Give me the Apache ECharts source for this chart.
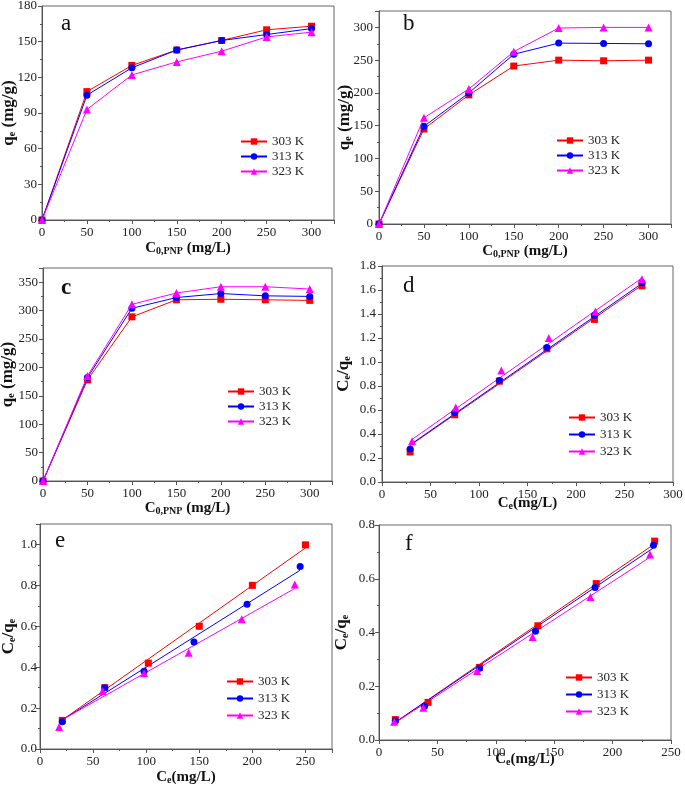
<!DOCTYPE html>
<html>
<head>
<meta charset="utf-8">
<script src="https://cdn.jsdelivr.net/npm/echarts@6/dist/echarts.min.js"></script>
<style>html,body{margin:0;padding:0;background:#fff;}#c{width:685px;height:786px;}</style>
</head>
<body>
<div id="c"></div>
<script>
// ---------- data ----------
const conc = [0, 50, 100, 150, 200, 250, 300];
const seriesNames = ['303 K', '313 K', '323 K'];

// panel a (q_e vs C0,PNP)
const a303 = [0, 108, 130, 143, 151, 160, 163];
const a313 = [0, 105, 128, 143, 151, 156, 161];
const a323 = [0, 93, 122, 133, 142, 154, 158];
// panel b
const b303 = [0, 145, 197, 241, 250, 249, 250];
const b313 = [0, 149, 200, 259, 276, 275.5, 275];
const b323 = [0, 162, 206, 263, 299, 300, 300];
// panel c
const c303 = [0, 178, 289, 319, 320, 319, 318];
const c313 = [0, 182, 304, 323, 330, 326, 325];
const c323 = [0, 185, 311, 331, 342, 342, 338];

// panel d (Ce/qe vs Ce)
const dCe303 = [29, 75, 121, 170, 219, 268];
const dY303 = [0.25, 0.56, 0.84, 1.11, 1.355, 1.635];
const dCe313 = [29, 75, 121, 170, 219, 268];
const dY313 = [0.275, 0.58, 0.845, 1.12, 1.39, 1.66];
const dCe323 = [31, 76, 123, 172, 220, 268];
const dY323 = [0.34, 0.62, 0.93, 1.20, 1.42, 1.69];
const dFit303 = [[29, 0.305], [268, 1.64]];
const dFit313 = [[29, 0.31], [268, 1.655]];
const dFit323 = [[31, 0.355], [268, 1.70]];

// panel e
const eCe303 = [21, 61, 102, 150, 200, 250];
const eY303 = [0.14, 0.30, 0.42, 0.60, 0.80, 0.998];
const eCe313 = [21, 61, 98, 145, 195, 245];
const eY313 = [0.133, 0.30, 0.38, 0.523, 0.708, 0.892];
const eCe323 = [18, 59, 98, 140, 190, 240];
const eY323 = [0.108, 0.283, 0.37, 0.47, 0.634, 0.804];
const eFit303 = [[21, 0.142], [250, 0.983]];
const eFit313 = [[21, 0.142], [245, 0.874]];
const eFit323 = [[20, 0.14], [240, 0.785]];

// panel f
const fCe303 = [14, 42, 86, 136, 186, 236];
const fY303 = [0.076, 0.14, 0.27, 0.425, 0.582, 0.74];
const fCe313 = [14, 39, 86, 134, 185, 235];
const fY313 = [0.072, 0.126, 0.267, 0.405, 0.567, 0.725];
const fCe323 = [13, 38, 84, 131.5, 181, 232];
const fY323 = [0.068, 0.12, 0.257, 0.383, 0.532, 0.69];
const fFit303 = [[14, 0.066], [236, 0.73]];
const fFit313 = [[14, 0.066], [235, 0.715]];
const fFit323 = [[13, 0.062], [232, 0.68]];

// ---------- styling ----------
const FONT = '"Liberation Serif", "Times New Roman", serif';
const colors = ['#ff0000', '#0000ff', '#ff00ff'];
const symbols = ['rect', 'circle', 'triangle'];
const symSizes = [7, 7, 8];

const grids = [
  {left: 42, top: 6, width: 292, height: 214},
  {left: 379, top: 11, width: 292, height: 213},
  {left: 43, top: 268, width: 289, height: 213},
  {left: 382, top: 266, width: 291, height: 216},
  {left: 40, top: 524, width: 292, height: 225},
  {left: 379, top: 525, width: 292, height: 215}
];
grids.forEach(g => {
  g.show = true; g.borderColor = '#666'; g.borderWidth = 1; g.backgroundColor = 'transparent';
  g.containLabel = false; g.outerBoundsMode = 'none';
});

const xNameConc = '{b|C}{s|0,PNP}{b| (mg/L)}';
const xNameCe = '{b|C}{s|e}{b|(mg/L)}';
const yNameQ = '{b|q}{s|e}{b| (mg/g)}';
const yNameCq = '{b|C}{s|e}{b|/q}{s|e}';

function nameStyle(size) {
  return {
    fontFamily: FONT, fontWeight: 'bold', fontSize: size, color: '#111',
    rich: {
      b: {fontFamily: FONT, fontWeight: 'bold', fontSize: size, color: '#111', lineHeight: 20},
      s: {fontFamily: FONT, fontWeight: 'bold', fontSize: 10, color: '#111', lineHeight: 20, padding: [7, 0, 0, 0]}
    }
  };
}

function axis(gi, min, max, interval, name, nameGap, isY, labelMargin) {
  return {
    gridIndex: gi, type: 'value', min: min, max: max, interval: interval,
    name: name, nameLocation: 'middle', nameGap: nameGap, nameMoveOverlap: false,
    nameTextStyle: nameStyle(isY ? 17 : 15),
    axisLine: {show: true, onZero: false, lineStyle: {color: '#555', width: 1}},
    axisTick: {show: true, inside: false, length: 4, lineStyle: {color: '#555'}},
    minorTick: {show: true, splitNumber: 2, length: 2, lineStyle: {color: '#555'}},
    splitLine: {show: false},
    axisLabel: {
      fontFamily: FONT, fontSize: 13, color: '#222', margin: labelMargin,
      showMaxLabel: (Math.abs(max / interval - Math.round(max / interval)) < 1e-6),
      formatter: function (v) {
        if (interval < 1) return v.toFixed(1);
        return String(v);
      }
    }
  };
}

const xAxes = [
  axis(0, 0, 325, 50, xNameConc, 18, false, 6),
  axis(1, 0, 325, 50, xNameConc, 17, false, 6),
  axis(2, 0, 325, 50, xNameConc, 17, false, 6),
  axis(3, 0, 300, 50, xNameCe, 11, false, 6),
  axis(4, 0, 275, 50, xNameCe, 18, false, 6),
  axis(5, 0, 250, 50, xNameCe, 9, false, 6)
];
const yAxes = [
  axis(0, 0, 180, 30, yNameQ, 23, true, 5),
  axis(1, 0, 325, 50, yNameQ, 24, true, 6),
  axis(2, 0, 375, 50, yNameQ, 25, true, 5),
  axis(3, 0, 1.8, 0.2, yNameCq, 28, true, 6),
  axis(4, 0, 1.1, 0.2, yNameCq, 21, true, 3),
  axis(5, 0, 0.8, 0.2, yNameCq, 27, true, 4)
];

const series = [];
function zip(xs, ys) { return xs.map((x, i) => [x, ys[i]]); }

const linePanels = [
  [a303, a313, a323],
  [b303, b313, b323],
  [c303, c313, c323]
];
linePanels.forEach((sets, gi) => {
  sets.forEach((vals, k) => {
    series.push({
      type: 'line', name: seriesNames[k], xAxisIndex: gi, yAxisIndex: gi,
      data: zip(conc, vals), symbol: symbols[k], symbolSize: symSizes[k],
      showSymbol: true, color: colors[k],
      lineStyle: {width: 1, color: colors[k]}, itemStyle: {color: colors[k]},
      animation: false, z: 3 + k
    });
  });
});

const scatterPanels = [
  {gi: 3, pts: [[dCe303, dY303], [dCe313, dY313], [dCe323, dY323]], fits: [dFit303, dFit313, dFit323]},
  {gi: 4, pts: [[eCe303, eY303], [eCe313, eY313], [eCe323, eY323]], fits: [eFit303, eFit313, eFit323]},
  {gi: 5, pts: [[fCe303, fY303], [fCe313, fY313], [fCe323, fY323]], fits: [fFit303, fFit313, fFit323]}
];
scatterPanels.forEach(p => {
  [0, 1, 2].forEach(k => {
    series.push({
      type: 'line', name: seriesNames[k], xAxisIndex: p.gi, yAxisIndex: p.gi,
      data: p.fits[k], symbol: symbols[k], showSymbol: false, color: colors[k],
      lineStyle: {width: 1, color: colors[k]}, animation: false, z: 2
    });
    series.push({
      type: 'scatter', name: seriesNames[k] + ' data', xAxisIndex: p.gi, yAxisIndex: p.gi,
      data: zip(p.pts[k][0], p.pts[k][1]), symbol: symbols[k], symbolSize: symSizes[k],
      itemStyle: {color: colors[k], opacity: 1}, animation: false, z: 3 + k
    });
  });
});

function legend(left, top, gap) {
  return {
    data: seriesNames, orient: 'vertical', left: left, top: top,
    itemWidth: 26, itemHeight: 8, itemGap: gap, selectedMode: false,
    textStyle: {fontFamily: FONT, fontSize: 13, color: '#222'}
  };
}

const letters = [
  {t: 'a', x: 61, y: 12, bold: false},
  {t: 'b', x: 403, y: 12, bold: false},
  {t: 'c', x: 61, y: 277, bold: true},
  {t: 'd', x: 403, y: 274, bold: false},
  {t: 'e', x: 55, y: 529, bold: false},
  {t: 'f', x: 405, y: 532, bold: false}
];

const option = {
  backgroundColor: '#fff',
  animation: false,
  grid: grids,
  xAxis: xAxes,
  yAxis: yAxes,
  legend: [
    legend(235, 130, 2),
    legend(551, 129, 2),
    legend(222, 380, 2),
    legend(563, 406, 4),
    legend(221, 670, 4),
    legend(560, 666, 4)
  ],
  graphic: letters.map(l => ({
    type: 'text', left: l.x, top: l.y,
    style: {text: l.t, font: (l.bold ? 'bold ' : '') + '23px ' + FONT, fill: '#111'}
  })),
  series: series
};

const chart = echarts.init(document.getElementById('c'), null, {renderer: 'canvas'});
chart.setOption(option);
</script>
</body>
</html>
